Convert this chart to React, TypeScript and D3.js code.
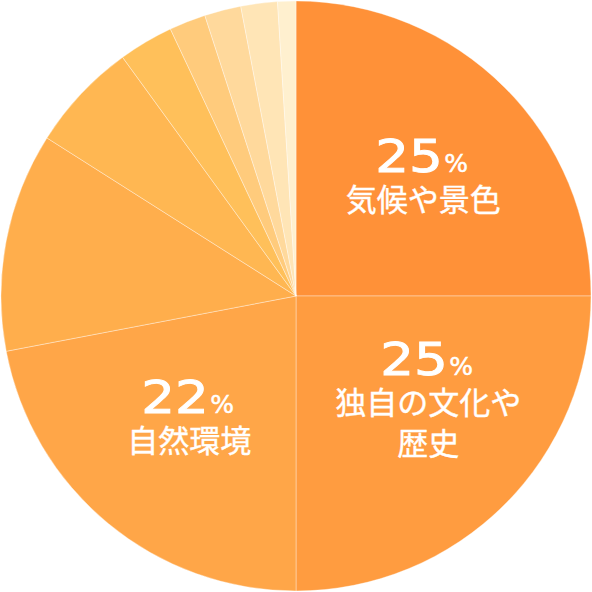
import React, { useEffect, useRef } from 'react';
import * as d3 from 'd3';

const shares = [25, 25, 22, 12, 6, 3, 2, 2, 2, 1];
const percentLabels = ['25', '25', '22'];
const categoryLines = [['気候や景色'], ['独自の文化や', '歴史'], ['自然環境']];
const sliceColors = [
  '#ff9138', '#ff9c40', '#ffa648', '#ffae4c', '#ffb752',
  '#ffc05a', '#ffcb7c', '#ffd99c', '#ffe5b6', '#fff0cf',
];

const SIZE = 592;
const labelShift = [
  [0, 3],
  [5, -48],
  [8, -22],
];

const App: React.FC = () => {
  const svgRef = useRef<SVGSVGElement>(null);

  useEffect(() => {
    if (!svgRef.current) return;
    const cx = 296;
    const cy = 296;
    const radius = 295;

    const svg = d3.select(svgRef.current);
    svg.selectAll('*').remove();

    const g = svg.append('g').attr('transform', `translate(${cx}, ${cy})`);

    const pie = d3.pie<number>().sort(null).value(d => d);
    const arcs = pie(shares);
    const arc = d3.arc<d3.PieArcDatum<number>>().innerRadius(0).outerRadius(radius);
    const labelArc = d3.arc<d3.PieArcDatum<number>>().innerRadius(180).outerRadius(180);

    g.selectAll('path.slice')
      .data(arcs)
      .enter()
      .append('path')
      .attr('class', 'slice')
      .attr('d', arc)
      .attr('fill', (_d, i) => sliceColors[i])
      .attr('stroke', 'rgba(255,255,255,0.45)')
      .attr('stroke-width', 0.8);

    percentLabels.forEach((pct, i) => {
      const [x0, y0] = labelArc.centroid(arcs[i]);
      const x = x0 + labelShift[i][0];
      const y = y0 + labelShift[i][1];
      const lg = g.append('g').attr('transform', `translate(${x}, ${y})`);

      // wide digits: stretch horizontally
      lg.append('g')
        .attr('transform', 'translate(-48, 0) scale(1.18, 1)')
        .append('text')
        .attr('font-family', '"DejaVu Sans", sans-serif')
        .attr('font-size', 45)
        .attr('fill', '#fff')
        .attr('stroke', '#fff')
        .attr('stroke-width', 0.9)
        .text(pct);

      lg.append('text')
        .attr('x', 21)
        .attr('y', 0)
        .attr('font-family', '"DejaVu Sans", sans-serif')
        .attr('font-size', 25)
        .attr('fill', '#fff')
        .attr('stroke', '#fff')
        .attr('stroke-width', 0.5)
        .text('%');

      categoryLines[i].forEach((line, j) => {
        lg.append('text')
          .attr('x', 0)
          .attr('y', 39 + j * 41)
          .attr('text-anchor', 'middle')
          .attr('font-family', '"Noto Sans CJK JP", sans-serif')
          .attr('font-size', 31)
          .attr('fill', '#fff')
          .attr('stroke', '#fff')
          .attr('stroke-width', 0.4)
          .text(line);
      });
    });
  }, []);

  return (
    <div style={{ position: 'absolute', left: 0, top: 0, background: '#fff' }}>
      <svg ref={svgRef} width={SIZE} height={SIZE}></svg>
    </div>
  );
};

export default App;
